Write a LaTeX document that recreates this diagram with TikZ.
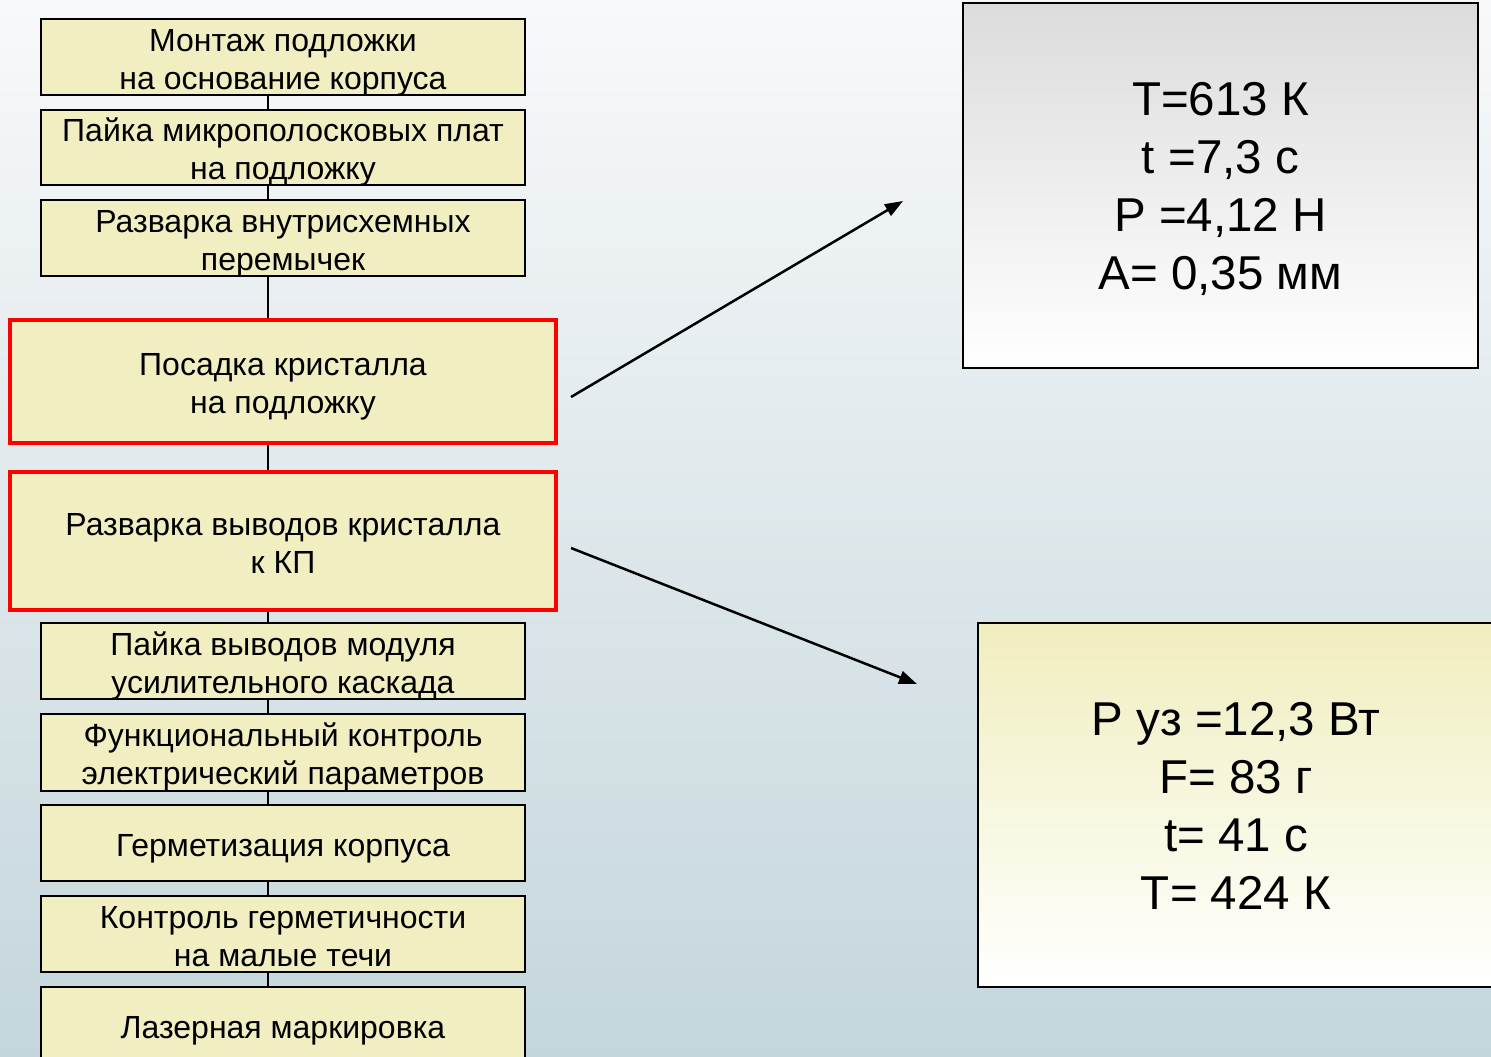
\documentclass[tikz,border=0pt]{standalone}
\usepackage{fontspec}
\setmainfont{Liberation Sans}
\usetikzlibrary{arrows.meta,calc}
\definecolor{boxfill}{RGB}{241,239,193}
\definecolor{bgtop}{RGB}{248,249,250}
\definecolor{bgbot}{RGB}{196,214,220}
\definecolor{greytop}{RGB}{220,220,220}
\definecolor{yeltop}{RGB}{240,238,190}
\newcommand\fsr{\rule{0pt}{35pt}}
\newcommand\lsr{\rule[-8.5pt]{0pt}{0pt}}
\newcommand\bfsr{\rule{0pt}{46pt}}
\newcommand\blsr{\rule[-12pt]{0pt}{0pt}}
\begin{document}
\begin{tikzpicture}[x=1pt,y=-1pt,
  stepbox/.style={draw=black, line width=2.5pt, fill=boxfill, minimum width=484pt,
    inner xsep=0pt, inner ysep=-8pt, align=center, font=\fontsize{32}{38}\selectfont},
  redbox/.style={stepbox, draw=red, line width=3.5pt, minimum width=546pt},
  link/.style={line width=2pt},
  arr/.style={line width=2.5pt, -{Triangle[length=18pt,width=13pt]}},
  param/.style={draw=black, line width=2.5pt, inner sep=0pt, align=center,
    font=\fontsize{47.5}{58}\selectfont}]
\useasboundingbox (0,0) rectangle (1491,1057);
\clip (0,0) rectangle (1491,1057);
\shade[top color=bgtop, bottom color=bgbot] (0,0) rectangle (1491,1057);

\node[stepbox, minimum height=76pt] (b1) at (283,57) {\fsr Монтаж подложки\\на основание корпуса\lsr};
\node[stepbox, minimum height=75pt] (b2) at (283,147.5) {\fsr Пайка микрополосковых плат\\на подложку\lsr};
\node[stepbox, minimum height=76pt] (b3) at (283,238) {\fsr Разварка внутрисхемных\\перемычек\lsr};
\node[redbox, minimum height=123pt] (b4) at (283,381.5) {\fsr Посадка кристалла\\на подложку\lsr};
\node[redbox, minimum height=138pt] (b5) at (283,541) {\fsr Разварка выводов кристалла\\к КП\lsr};
\node[stepbox, minimum height=76pt] (b6) at (283,661) {\fsr Пайка выводов модуля\\усилительного каскада\lsr};
\node[stepbox, minimum height=77pt] (b7) at (283,752.5) {\fsr Функциональный контроль\\электрический параметров\lsr};
\node[stepbox, minimum height=76pt] (b8) at (283,843) {\fsr Герметизация корпуса\lsr};
\node[stepbox, minimum height=76pt] (b9) at (283,934) {\fsr Контроль герметичности\\на малые течи\lsr};
\node[stepbox, minimum height=76pt] (b10) at (283,1025) {\fsr Лазерная маркировка\lsr};

\coordinate (spine) at (268,0);
\foreach \a/\b in {b1/b2,b2/b3,b3/b4,b4/b5,b5/b6,b6/b7,b7/b8,b8/b9,b9/b10}
  \draw[link] (\a.south -| spine) -- (\b.north -| spine);

\node[param, top color=greytop, bottom color=white, minimum width=515pt, minimum height=365pt]
  (r1) at (1220.5,185.5) {\bfsr T=613 К\\t =7,3 с\\P =4,12 Н\\A= 0,35 мм\blsr};
\node[param, top color=yeltop, bottom color=white, minimum width=516pt, minimum height=364pt]
  (r2) at (1236,805) {\bfsr P уз =12,3 Вт\\F= 83 г\\t= 41 с\\T= 424 К\blsr};

\coordinate (a1s) at (571,397);
\coordinate (a1e) at (903,201);
\coordinate (a2s) at (571,548);
\coordinate (a2e) at (917,684);
\draw[arr] (a1s) -- (a1e);
\draw[arr] (a2s) -- (a2e);
\end{tikzpicture}
\end{document}
